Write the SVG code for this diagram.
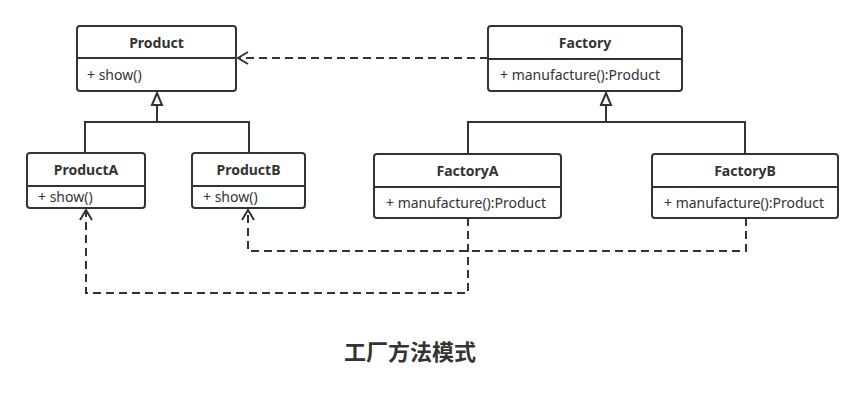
<svg xmlns="http://www.w3.org/2000/svg" width="865" height="404" viewBox="0 0 865 404">
<style>
.box{fill:#fff;stroke:#333;stroke-width:2}
.div{stroke:#333;stroke-width:2}
.t{font-family:"Noto Sans","Liberation Sans",sans-serif;font-size:14px;fill:#333;font-weight:bold;text-anchor:middle}
.m{font-family:"Noto Sans","Liberation Sans",sans-serif;font-size:14px;fill:#333}
.solid{fill:none;stroke:#333;stroke-width:2}
.dash{fill:none;stroke:#333;stroke-width:2;stroke-dasharray:8,5}
</style>
<defs>
<marker id="open" markerWidth="14" markerHeight="14" refX="12" refY="7" orient="auto" markerUnits="userSpaceOnUse">
<path d="M2,1 L12,7 L2,13" fill="none" stroke="#333" stroke-width="2"/>
</marker>
<marker id="tri" markerWidth="14" markerHeight="16" refX="13" refY="7" orient="auto" markerUnits="userSpaceOnUse">
<path d="M1,2 L13,7 L1,12 Z" fill="#fff" stroke="#333" stroke-width="2"/>
</marker>
</defs>
<g id="connectors">
<path class="dash" d="M488,58 H238" marker-end="url(#open)"/>
<path class="solid" d="M85,153 V122 H249 V153"/>
<path class="solid" d="M157,122 V93" marker-end="url(#tri)"/>
<path class="solid" d="M468,154 V122 H745 V154"/>
<path class="solid" d="M606,122 V93" marker-end="url(#tri)"/>
<path class="dash" d="M468,218 V293 H86 V210" marker-end="url(#open)"/>
<path class="dash" d="M746,218 V251 H248 V210" marker-end="url(#open)"/>
</g>
<g id="Product">
<rect class="box" x="77" y="26" width="159" height="65" rx="3"/>
<line class="div" x1="77" y1="58" x2="236" y2="58"/>
<text class="t" x="156.5" y="48">Product</text>
<text class="m" x="87" y="80">+ show()</text>
</g>
<g id="Factory">
<rect class="box" x="488" y="26" width="194" height="65" rx="3"/>
<line class="div" x1="488" y1="59" x2="682" y2="59"/>
<text class="t" x="585" y="48">Factory</text>
<text class="m" x="500" y="80">+ manufacture():Product</text>
</g>
<g id="ProductA">
<rect class="box" x="27" y="153" width="118" height="55" rx="3"/>
<line class="div" x1="27" y1="186" x2="145" y2="186"/>
<text class="t" x="86" y="175">ProductA</text>
<text class="m" x="38" y="202">+ show()</text>
</g>
<g id="ProductB">
<rect class="box" x="192" y="153" width="113" height="55" rx="3"/>
<line class="div" x1="192" y1="186" x2="305" y2="186"/>
<text class="t" x="248.5" y="175">ProductB</text>
<text class="m" x="203" y="202">+ show()</text>
</g>
<g id="FactoryA">
<rect class="box" x="374" y="154" width="187" height="64" rx="3"/>
<line class="div" x1="374" y1="187" x2="561" y2="187"/>
<text class="t" x="467.5" y="176">FactoryA</text>
<text class="m" x="386" y="208">+ manufacture():Product</text>
</g>
<g id="FactoryB">
<rect class="box" x="652" y="154" width="186" height="64" rx="3"/>
<line class="div" x1="652" y1="187" x2="838" y2="187"/>
<text class="t" x="745" y="176">FactoryB</text>
<text class="m" x="664" y="208">+ manufacture():Product</text>
</g>
<text x="410" y="360" font-family="'Noto Sans CJK SC',sans-serif" font-size="22" font-weight="bold" fill="#333" text-anchor="middle">工厂方法模式</text>
</svg>
